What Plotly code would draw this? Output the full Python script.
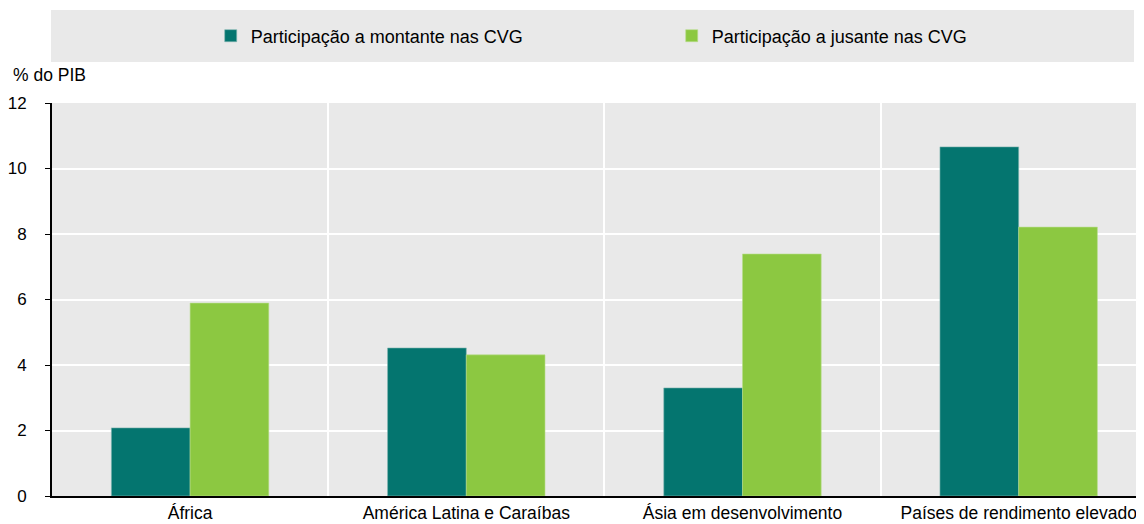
import plotly.graph_objects as go

categories = ["África", "América Latina e Caraíbas", "Ásia em desenvolvimento", "Países de rendimento elevado"]
upstream = [2.08, 4.52, 3.30, 10.66]
downstream = [5.89, 4.31, 7.39, 8.21]
series_names = ["Participação a montante nas CVG", "Participação a jusante nas CVG"]
y_ticks = [0, 2, 4, 6, 8, 10, 12]

FONT = "Liberation Sans, Arial"
OFF = 8  # page body margin

fig = go.Figure()
fig.add_trace(go.Bar(x=categories, y=upstream, name=series_names[0],
                     marker=dict(color="#04756F", line=dict(width=0.6, color="#7fb5b0"))))
fig.add_trace(go.Bar(x=categories, y=downstream, name=series_names[1],
                     marker=dict(color="#8CC841", line=dict(width=0.6, color="#b9dd8d"))))

W, H = 1144 - OFF, 524 - OFF
L, T, B, R = 50 - OFF, 103 - OFF, 28, 0
pw = W - L - R
ph = H - T - B

def px_x(xr):
    return (xr - OFF - L) / pw

def px_y(yr):
    return 1 + (T - (yr - OFF)) / ph

fig.update_layout(
    width=W, height=H,
    margin=dict(l=L, r=R, t=T, b=B, pad=0),
    paper_bgcolor="white", plot_bgcolor="#E9E9E9",
    barmode="group", bargap=0.43, bargroupgap=0,
    font=dict(family=FONT, size=17, color="#000"),
    showlegend=True,
    legend=dict(orientation="h", x=px_x(249 - 40), xanchor="left",
                y=px_y(36), yanchor="middle",
                bgcolor="rgba(0,0,0,0)", font=dict(size=18, family=FONT),
                entrywidth=416, itemwidth=30, traceorder="normal"),
    xaxis=dict(range=[-0.5, -0.5 + pw / 276.7], tickson="boundaries", showgrid=True,
               gridcolor="white", gridwidth=2, ticks="", showline=True,
               linecolor="black", linewidth=2, tickfont=dict(size=17.5, family=FONT),
               fixedrange=True),
    yaxis=dict(range=[0, 12], tickvals=y_ticks, showgrid=True, gridcolor="white",
               gridwidth=2, ticks="outside", ticklen=5, tickcolor="black",
               showline=True, linecolor="black", linewidth=2, zeroline=False,
               tickfont=dict(size=17, family=FONT), ticklabelstandoff=15),
    shapes=[dict(type="rect", xref="paper", yref="paper",
                 x0=px_x(49), x1=px_x(1134),
                 y0=px_y(62), y1=px_y(10),
                 fillcolor="#E9E9E9", line=dict(width=0), layer="below")],
    annotations=[dict(text="% do PIB", xref="paper", yref="paper",
                      x=px_x(9), y=px_y(75), xanchor="left", yanchor="middle",
                      showarrow=False, font=dict(size=17.5, family=FONT))],
)

fig.write_html("out.html")
